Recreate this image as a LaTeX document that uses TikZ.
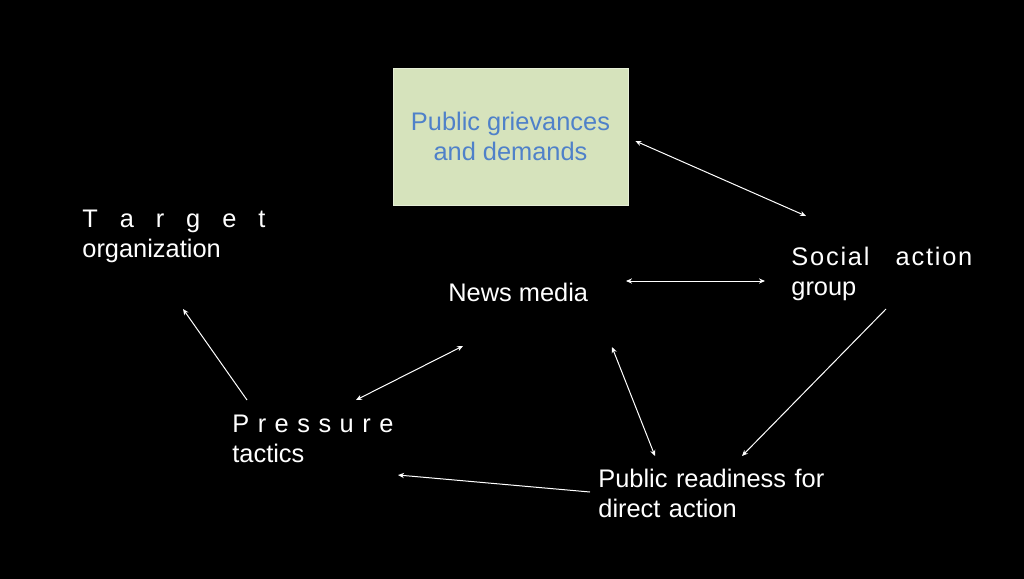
\documentclass[tikz,border=0pt]{standalone}
\usepackage{fontspec}
\setmainfont{Liberation Sans}
\usetikzlibrary{arrows.meta,calc}
\definecolor{boxgreen}{RGB}{214,227,188}
\definecolor{boxblue}{RGB}{79,129,201}
\tikzstyle{actor} = [text=white, inner sep=0pt, anchor=base west, align=left, font=\fontsize{12.7}{15}\selectfont]
\tikzstyle{link} = [white, line width=0.5pt, {Stealth[length=3pt,width=2.6pt]}-{Stealth[length=3pt,width=2.6pt]}]
\tikzstyle{oneway} = [white, line width=0.5pt, -{Stealth[length=3pt,width=2.6pt]}]

\begin{document}
\begin{tikzpicture}[x=0.5pt,y=-0.5pt]

	\fill[black] (0,0) rectangle (1024,579);
	\useasboundingbox (0,0) rectangle (1024,579);

	\node[draw=boxgreen!60!white, line width=0.4pt, fill=boxgreen, text=boxblue, align=center,
		minimum width=117.5pt, minimum height=68.5pt, inner sep=0pt,
		font=\fontsize{12.7}{15}\selectfont] (grievances) at (510.5,136.5) {Public grievances\\and demands};

	\node[actor, text width=91.5pt] (target) at (82,227) {T\hfill a\hfill r\hfill g\hfill e\hfill t\\organization};
	\node[actor, text width=90.5pt] (social) at (791,265) {{\addfontfeature{LetterSpace=7}Social\hfill action}\\group};
	\node[actor] (news) at (448,301) {News media};
	\node[actor, text width=80.5pt] (pressure) at (232,432) {P\hfill r\hfill e\hfill s\hfill s\hfill u\hfill r\hfill e\\tactics};
	\node[actor, text width=116pt] (readiness) at (598,487) {Public readiness for\\direct action};

	\draw[link] ($(grievances.east)+(7,4.5)$) -- ($(social.base west)+(15,-49)$);
	\draw[link] ($(news.base west)+(178,-20)$) -- ($(social.base west)+(-26,16)$);
	\draw[oneway] ($(pressure.base west)+(15,-32)$) -- ($(target.base west)+(101,82)$);
	\draw[link] ($(pressure.base west)+(124,-32)$) -- ($(news.base west)+(15,45)$);
	\draw[link] ($(news.base west)+(164,46)$) -- ($(readiness.base west)+(57,-31)$);
	\draw[oneway] ($(social.base west)+(95,44)$) -- ($(readiness.base west)+(144,-31)$);
	\draw[oneway] ($(readiness.base west)+(-8,5)$) -- ($(pressure.base west)+(166,43)$);

\end{tikzpicture}
\end{document}
